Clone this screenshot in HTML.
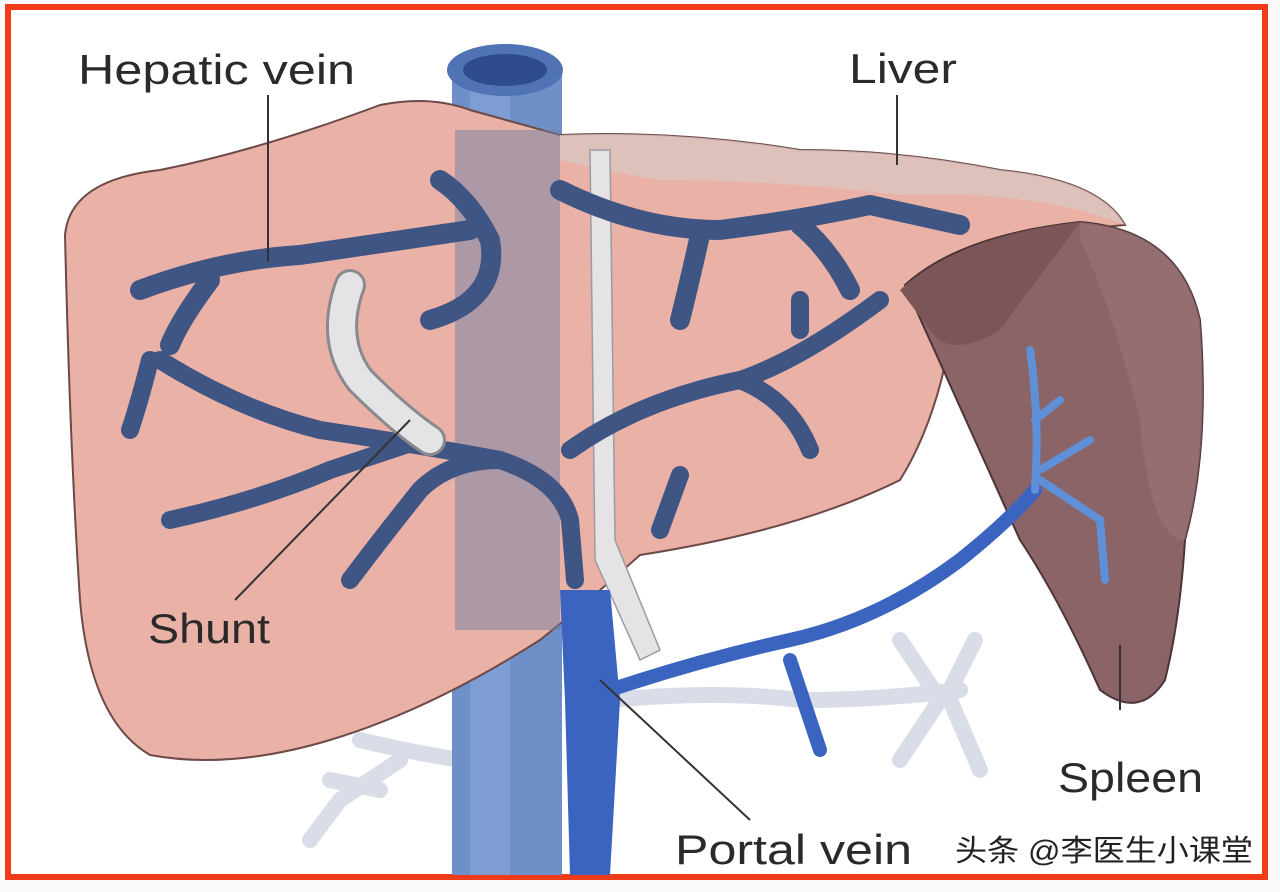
<!DOCTYPE html>
<html><head><meta charset="utf-8"><style>
html,body{margin:0;padding:0;background:#fff;}
body{width:1280px;height:892px;overflow:hidden;position:relative;}
svg{position:absolute;left:0;top:0;}
</style></head><body>
<svg width="1280" height="892" viewBox="0 0 1280 892" xmlns="http://www.w3.org/2000/svg">
<rect x="0" y="0" width="1280" height="892" fill="#fafafa"/>
<rect x="8" y="7" width="1257" height="870" fill="#fff" stroke="#ef3b18" stroke-width="6"/>
<g stroke="#d8dde8" stroke-width="16" fill="none" stroke-linecap="round">
<path d="M610 700 Q720 690 800 700 Q880 700 960 690"/>
<path d="M900 640 L940 700 L900 760"/><path d="M950 690 L975 640"/><path d="M950 700 L980 770"/>
<path d="M460 760 Q400 750 360 740"/><path d="M400 760 L340 800 L310 840"/><path d="M380 790 L330 780"/>
</g>
<rect x="452" y="75" width="110" height="800" fill="#6f8fc8"/>
<rect x="470" y="75" width="40" height="800" fill="#88a6d8" opacity="0.6"/>
<ellipse cx="505" cy="70" rx="58" ry="26" fill="#4f73b5"/>
<ellipse cx="505" cy="70" rx="42" ry="16" fill="#2e4c8c"/>
<path d="M65 235 Q70 180 160 170 Q260 150 380 105 Q430 95 470 110 L560 135 Q680 130 800 150 Q900 150 1000 170 Q1100 180 1125 225 Q1060 230 960 260 Q950 400 900 480 Q800 530 640 555 Q590 600 540 640 Q430 710 330 740 Q230 770 150 755 Q90 720 80 600 Q70 450 65 235Z" fill="#eab1a6" stroke="#6d4a48" stroke-width="2"/>
<path d="M560 135 Q680 130 800 150 Q900 150 1000 170 Q1100 180 1125 225 Q1040 190 900 195 Q780 180 660 180 Q600 170 560 160Z" fill="#dcc5c2" opacity="0.8"/>
<rect x="455" y="130" width="105" height="500" fill="#6f7fa6" opacity="0.5"/>
<path d="M590 150 L610 150 L615 540 L660 650 L640 660 L595 560Z" fill="#e6e3e5" stroke="#9a9aa5" stroke-width="1.5"/>
<path d="M905 285 Q960 235 1080 222 Q1180 230 1200 320 Q1210 450 1185 540 Q1180 620 1165 680 Q1140 720 1100 690 Q1060 600 1020 540 Q970 430 905 285Z" fill="#8a6467" stroke="#4d3436" stroke-width="2"/>
<path d="M1080 222 Q1180 230 1200 320 Q1210 450 1185 540 Q1150 540 1140 420 Q1110 300 1080 240Z" fill="#9c7479" opacity="0.6"/>
<path d="M900 290 Q960 235 1080 222 L1000 330 Q950 360 930 330Z" fill="#7b5557"/>
<g stroke="#3f5583" stroke-width="20" fill="none" stroke-linecap="round" stroke-linejoin="round">
<path d="M140 290 Q220 260 300 255 Q400 240 470 230"/>
<path d="M210 280 Q180 320 170 345"/>
<path d="M440 180 Q470 200 490 240 Q500 300 430 320"/>
<path d="M560 190 Q640 230 720 230 Q800 220 870 205 L960 225"/>
<path d="M700 235 Q690 280 680 320"/><path d="M800 225 Q830 250 850 290"/>
</g>
<g stroke="#3f5583" stroke-width="18" fill="none" stroke-linecap="round" stroke-linejoin="round">
<path d="M160 360 Q240 410 320 430 Q420 445 500 460 Q560 480 570 520 L575 580"/>
<path d="M150 360 Q140 400 130 430"/>
<path d="M170 520 Q260 500 330 470 Q390 450 420 440"/>
<path d="M350 580 Q380 540 420 490 Q450 460 500 460"/>
<path d="M570 450 Q640 400 740 380 Q800 360 880 300"/>
<path d="M740 380 Q790 400 810 450"/><path d="M660 530 L680 475"/>
<path d="M800 330 L800 300"/>
</g>
<path d="M350 285 Q330 340 360 380 Q400 420 430 440" stroke="#8a8a8e" stroke-width="32" fill="none" stroke-linecap="round"/>
<path d="M350 285 Q330 340 360 380 Q400 420 430 440" stroke="#e4e4e6" stroke-width="26" fill="none" stroke-linecap="round"/>
<path d="M560 590 L610 590 L620 700 L610 875 L570 875 L565 700Z" fill="#3a64c0"/>
<g stroke="#3a64c0" stroke-width="14" fill="none" stroke-linecap="round" stroke-linejoin="round">
<path d="M610 690 Q700 660 790 640 Q880 620 960 560 Q1010 520 1035 490"/>
<path d="M790 660 L820 750"/>
</g>
<g stroke="#5f8fd6" stroke-width="8" fill="none" stroke-linecap="round">
<path d="M1035 490 Q1040 420 1030 350"/><path d="M1040 480 L1100 520 L1105 580"/><path d="M1040 470 L1090 440"/><path d="M1035 420 L1060 400"/>
</g>
<g stroke="#333" stroke-width="2" fill="none">
<line x1="268" y1="95" x2="268" y2="262"/>
<line x1="897" y1="95" x2="897" y2="165"/>
<line x1="235" y1="600" x2="410" y2="420"/>
<line x1="750" y1="820" x2="600" y2="680"/>
<line x1="1120" y1="645" x2="1120" y2="710"/>
</g>
<g font-family="'Liberation Sans', sans-serif" font-size="42" fill="#2a2a2a" lengthAdjust="spacingAndGlyphs">
<text x="78" y="84" textLength="277" lengthAdjust="spacingAndGlyphs">Hepatic vein</text>
<text x="849" y="83" textLength="108" lengthAdjust="spacingAndGlyphs">Liver</text>
<text x="148" y="643" textLength="122" lengthAdjust="spacingAndGlyphs">Shunt</text>
<text x="1058" y="792" textLength="145" lengthAdjust="spacingAndGlyphs">Spleen</text>
<text x="675" y="864" textLength="237" lengthAdjust="spacingAndGlyphs">Portal vein</text>
</g>
<text x="955" y="861" textLength="298" lengthAdjust="spacingAndGlyphs" font-family="'Liberation Sans','Noto Sans CJK SC',sans-serif" font-size="30" fill="#222">头条 @李医生小课堂</text>
</svg>
</body></html>
